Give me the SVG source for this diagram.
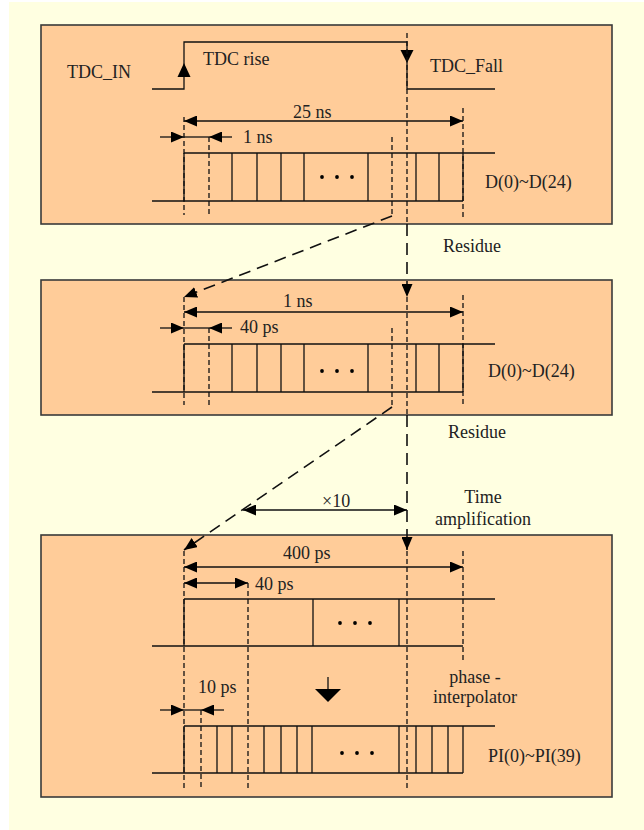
<svg xmlns="http://www.w3.org/2000/svg" width="644" height="830" viewBox="0 0 644 830">
<style>
.panel{fill:#FFCC99;stroke:#3a3a3a;stroke-width:1.6}
.ln{stroke:#111;stroke-width:1.3;fill:none}
.sd{stroke:#111;stroke-width:1.3;fill:none;stroke-dasharray:5 3}
.ld{stroke:#111;stroke-width:1.6;fill:none;stroke-dasharray:12 7}
.ah{fill:#000}
.dot{fill:#000}
text{font-family:"Liberation Serif","Times New Roman",serif;font-size:18px;fill:#222}
.mid{text-anchor:middle}
</style>
<defs>
<marker id="arr" viewBox="0 0 13 11" refX="13" refY="5.5" markerWidth="13" markerHeight="11" markerUnits="userSpaceOnUse" orient="auto-start-reverse">
<path d="M0,0 L13,5.5 L0,11 z" fill="#000"/>
</marker>
</defs>
<rect x="9" y="2" width="635" height="828" fill="#FFFFE1"/>

<g id="panel1">
<rect class="panel" x="41" y="25" width="571" height="199"/>
<polyline class="ln" points="152,89 184,89 184,42 407,42 407,89 495,89"/>
<polygon class="ah" points="184,63 177.5,77 190.5,77"/>
<polygon class="ah" points="407,63 400.5,50 413.5,50"/>
<text x="67" y="78">TDC_IN</text>
<text x="203" y="65">TDC rise</text>
<text x="430" y="72">TDC_Fall</text>
<line class="ln" x1="184" y1="121" x2="463" y2="121" marker-start="url(#arr)" marker-end="url(#arr)"/>
<text x="293" y="118">25 ns</text>
<line class="ln" x1="160" y1="137" x2="184" y2="137" marker-end="url(#arr)"/>
<line class="ln" x1="232" y1="137" x2="209" y2="137" marker-end="url(#arr)"/>
<line class="ln" x1="184" y1="137" x2="209" y2="137"/>
<text x="243" y="143">1 ns</text>
<line class="ln" x1="184" y1="153" x2="495" y2="153"/>
<line class="ln" x1="152" y1="201" x2="463" y2="201"/>
<path class="ln" d="M184,153V201M232,153V201M257,153V201M281,153V201M304,153V201M368,153V201M416,153V201M439,153V201M463,153V201"/>
<path class="sd" d="M184,117V215M209,137V215M463,108V217M407,33V224M392,137V216"/>
<circle class="dot" cx="322" cy="177" r="1.9"/><circle class="dot" cx="337" cy="177" r="1.9"/><circle class="dot" cx="352" cy="177" r="1.9"/>
<text x="485" y="188">D(0)~D(24)</text>
</g>

<g id="panel2">
<rect class="panel" x="41" y="280" width="571" height="135"/>
<line class="ln" x1="184" y1="312" x2="463" y2="312" marker-start="url(#arr)" marker-end="url(#arr)"/>
<text x="283" y="307">1 ns</text>
<line class="ln" x1="160" y1="328" x2="184" y2="328" marker-end="url(#arr)"/>
<line class="ln" x1="232" y1="328" x2="209" y2="328" marker-end="url(#arr)"/>
<line class="ln" x1="184" y1="328" x2="209" y2="328"/>
<text x="240" y="333">40 ps</text>
<line class="ln" x1="184" y1="344" x2="495" y2="344"/>
<line class="ln" x1="152" y1="392" x2="463" y2="392"/>
<path class="ln" d="M184,344V392M232,344V392M257,344V392M281,344V392M304,344V392M368,344V392M416,344V392M439,344V392M463,344V392"/>
<path class="sd" d="M184,297V405M209,328V405M463,295V405M407,297V415M392,328V407"/>
<circle class="dot" cx="322" cy="371" r="1.9"/><circle class="dot" cx="337" cy="371" r="1.9"/><circle class="dot" cx="352" cy="371" r="1.9"/>
<text x="488" y="377">D(0)~D(24)</text>
</g>

<g id="panel3">
<rect class="panel" x="41" y="535" width="571" height="262"/>
<line class="ln" x1="184" y1="567" x2="463" y2="567" marker-start="url(#arr)" marker-end="url(#arr)"/>
<text x="283" y="559">400 ps</text>
<line class="ln" x1="184" y1="583" x2="248" y2="583" marker-start="url(#arr)" marker-end="url(#arr)"/>
<text x="255" y="590">40 ps</text>
<line class="ln" x1="184" y1="599" x2="495" y2="599"/>
<line class="ln" x1="152" y1="646" x2="463" y2="646"/>
<path class="ln" d="M184,599V646M313,599V646M399,599V646"/>
<circle class="dot" cx="340" cy="623" r="1.9"/><circle class="dot" cx="355" cy="623" r="1.9"/><circle class="dot" cx="370" cy="623" r="1.9"/>
<line class="ln" x1="328" y1="677" x2="328" y2="690"/>
<polygon class="ah" points="315,689 341,689 328,702"/>
<text class="mid" x="475" y="683">phase -</text>
<text class="mid" x="475" y="703">interpolator</text>
<line class="ln" x1="160" y1="710" x2="184" y2="710" marker-end="url(#arr)"/>
<line class="ln" x1="224" y1="710" x2="201" y2="710" marker-end="url(#arr)"/>
<line class="ln" x1="184" y1="710" x2="201" y2="710"/>
<text x="198" y="693">10 ps</text>
<line class="ln" x1="184" y1="726" x2="495" y2="726"/>
<line class="ln" x1="152" y1="773" x2="463" y2="773"/>
<path class="ln" d="M184,726V773M217,726V773M232,726V773M264,726V773M281,726V773M297,726V773M312,726V773M399,726V773M416,726V773M432,726V773M448,726V773M463,726V773"/>
<path class="sd" d="M184,551V790M248,583V790M201,710V790M463,551V662M407,551V790"/>
<circle class="dot" cx="342" cy="753" r="1.9"/><circle class="dot" cx="357" cy="753" r="1.9"/><circle class="dot" cx="372" cy="753" r="1.9"/>
<text x="488" y="762">PI(0)~PI(39)</text>
</g>

<g id="connectors">
<line class="ld" x1="407" y1="224" x2="407" y2="297" marker-end="url(#arr)"/>
<line class="ld" x1="392" y1="216" x2="184" y2="297" marker-end="url(#arr)"/>
<line class="ld" x1="407" y1="415" x2="407" y2="550" marker-end="url(#arr)"/>
<line class="ld" x1="392" y1="407" x2="184" y2="550" marker-end="url(#arr)"/>
<line class="ln" x1="243" y1="510" x2="407" y2="510" marker-start="url(#arr)" marker-end="url(#arr)"/>
</g>

<g id="labels">
<text x="443" y="252">Residue</text>
<text x="448" y="438">Residue</text>
<text x="322" y="507">×10</text>
<text class="mid" x="483" y="503">Time</text>
<text class="mid" x="483" y="525">amplification</text>
</g>
</svg>
